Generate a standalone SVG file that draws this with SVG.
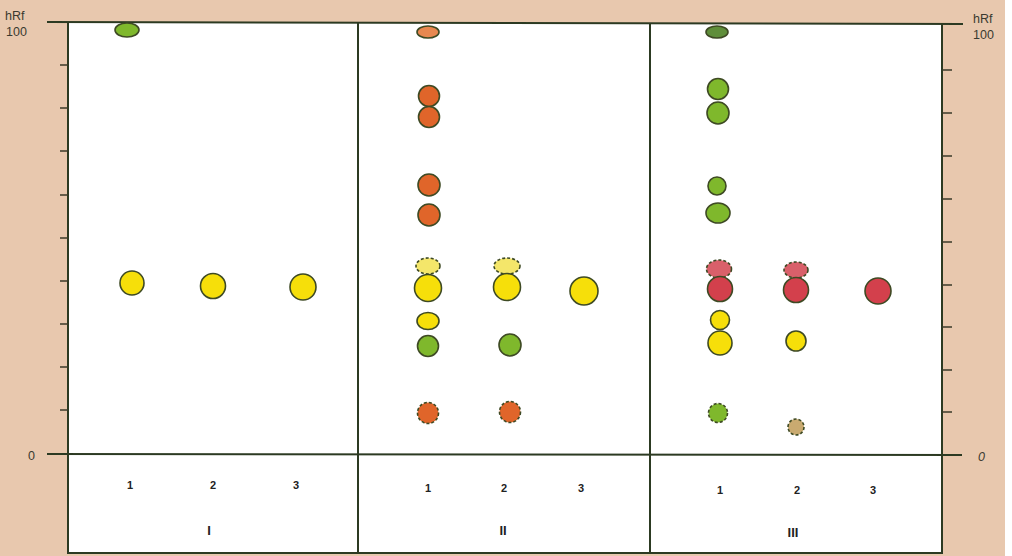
<svg xmlns="http://www.w3.org/2000/svg" width="1012" height="556" viewBox="0 0 1012 556">
<defs>
<style>
.frame{fill:none;stroke:#2c3a22;stroke-width:2}
.tick{stroke:#3a3a28;stroke-width:1.5}
.hand{font-family:"Liberation Sans",Arial,sans-serif;font-size:12.5px;fill:#3a3a30}
.num{font-family:"Liberation Sans",Arial,sans-serif;font-size:11px;font-weight:bold;fill:#222}
.roman{font-family:"Liberation Sans",Arial,sans-serif;font-size:13px;font-weight:bold;fill:#222}
.s{stroke:#3e4a24;stroke-width:1.6}
.d{stroke:#3e4a24;stroke-width:1.6;stroke-dasharray:3 2}
.yel{fill:#f6df0a}
.lyel{fill:#f4e66a}
.org{fill:#e0652a}
.lorg{fill:#e88850}
.grn{fill:#7fb82c}
.dgrn{fill:#5f8e3a}
.red{fill:#d3404c}
.lred{fill:#d9606a}
.tan{fill:#c9aa70}
</style>
</defs>
<rect x="0" y="0" width="1012" height="556" fill="#fff"/>
<rect x="0" y="0" width="1005" height="556" fill="#e8c8ae"/>
<rect x="68" y="23" width="874" height="531" fill="#fff"/>

<g id="axes">
<line class="frame" x1="47" y1="22" x2="963" y2="24"/>
<line class="frame" x1="68" y1="22" x2="68" y2="554"/>
<line class="frame" x1="942" y1="24" x2="942" y2="554"/>
<line class="frame" x1="68" y1="553" x2="942" y2="553"/>
<line class="frame" x1="47" y1="454" x2="962" y2="455"/>
<line class="frame" x1="358" y1="22" x2="358" y2="553"/>
<line class="frame" x1="650" y1="23" x2="650" y2="553"/>
<g class="tick">
<line x1="60" y1="65" x2="68" y2="65"/>
<line x1="60" y1="108" x2="68" y2="108"/>
<line x1="60" y1="151" x2="68" y2="151"/>
<line x1="60" y1="195" x2="68" y2="195"/>
<line x1="60" y1="238" x2="68" y2="238"/>
<line x1="60" y1="281" x2="68" y2="281"/>
<line x1="60" y1="324" x2="68" y2="324"/>
<line x1="60" y1="367" x2="68" y2="367"/>
<line x1="60" y1="410" x2="68" y2="410"/>
<line x1="942" y1="70" x2="952" y2="70"/>
<line x1="942" y1="113" x2="952" y2="113"/>
<line x1="942" y1="156" x2="952" y2="156"/>
<line x1="942" y1="199" x2="952" y2="199"/>
<line x1="942" y1="242" x2="952" y2="242"/>
<line x1="942" y1="285" x2="952" y2="285"/>
<line x1="942" y1="327" x2="952" y2="327"/>
<line x1="942" y1="370" x2="952" y2="370"/>
<line x1="942" y1="412" x2="952" y2="412"/>
</g>
<text class="hand" x="5" y="20">hRf</text>
<text class="hand" x="6" y="36" font-size="10.5">100</text>
<text class="hand" x="28" y="460" font-size="13">0</text>
<text class="hand" x="973" y="23">hRf</text>
<text class="hand" x="973" y="39" font-size="10.5">100</text>
<text class="hand" x="978" y="461" font-size="13" font-style="italic">0</text>
</g>

<g id="labels">
<text class="num" x="130" y="489" text-anchor="middle">1</text>
<text class="num" x="213" y="489" text-anchor="middle">2</text>
<text class="num" x="296" y="489" text-anchor="middle">3</text>
<text class="roman" x="209" y="535" text-anchor="middle">I</text>
<text class="num" x="428" y="492" text-anchor="middle">1</text>
<text class="num" x="504" y="492" text-anchor="middle">2</text>
<text class="num" x="581" y="492" text-anchor="middle">3</text>
<text class="roman" x="503" y="535" text-anchor="middle">II</text>
<text class="num" x="720" y="494" text-anchor="middle">1</text>
<text class="num" x="797" y="494" text-anchor="middle">2</text>
<text class="num" x="873" y="494" text-anchor="middle">3</text>
<text class="roman" x="793" y="537" text-anchor="middle">III</text>
</g>

<g id="lane-I">
<ellipse class="grn s" cx="127" cy="30" rx="12" ry="7"/>
<circle class="yel s" cx="132" cy="283" r="12"/>
<circle class="yel s" cx="213" cy="286" r="12.5"/>
<circle class="yel s" cx="303" cy="287" r="13"/>
</g>

<g id="lane-II">
<ellipse class="lorg s" cx="428" cy="32" rx="11" ry="6"/>
<circle class="org s" cx="429" cy="96" r="10.5"/>
<circle class="org s" cx="429" cy="117" r="10.5"/>
<circle class="org s" cx="429" cy="185" r="11"/>
<circle class="org s" cx="429" cy="215" r="11"/>
<ellipse class="lyel d" cx="428" cy="266" rx="12" ry="8"/>
<circle class="yel s" cx="428" cy="288" r="13.5"/>
<ellipse class="yel s" cx="428" cy="321" rx="11" ry="8.5"/>
<circle class="grn s" cx="428" cy="346" r="10.5"/>
<circle class="org d" cx="428" cy="413" r="10.5"/>
<ellipse class="lyel d" cx="507" cy="266" rx="13" ry="8"/>
<circle class="yel s" cx="507" cy="287" r="13.5"/>
<circle class="grn s" cx="510" cy="345" r="11"/>
<circle class="org d" cx="510" cy="412" r="10.5"/>
<circle class="yel s" cx="584" cy="291" r="14"/>
</g>

<g id="lane-III">
<ellipse class="dgrn s" cx="717" cy="32" rx="11" ry="6"/>
<circle class="grn s" cx="718" cy="89" r="10.5"/>
<circle class="grn s" cx="718" cy="113" r="11"/>
<circle class="grn s" cx="717" cy="186" r="9"/>
<ellipse class="grn s" cx="718" cy="213" rx="12" ry="10"/>
<ellipse class="lred d" cx="719" cy="269" rx="12.5" ry="9"/>
<circle class="red s" cx="720" cy="289" r="12.5"/>
<circle class="yel s" cx="720" cy="320" r="9.5"/>
<circle class="yel s" cx="720" cy="343" r="12"/>
<circle class="grn d" cx="718" cy="413" r="9.5"/>
<ellipse class="lred d" cx="796" cy="270" rx="12" ry="8"/>
<circle class="red s" cx="796" cy="290" r="12.5"/>
<circle class="yel s" cx="796" cy="341" r="10"/>
<circle class="tan d" cx="796" cy="427" r="8"/>
<circle class="red s" cx="878" cy="291" r="13"/>
</g>
</svg>
